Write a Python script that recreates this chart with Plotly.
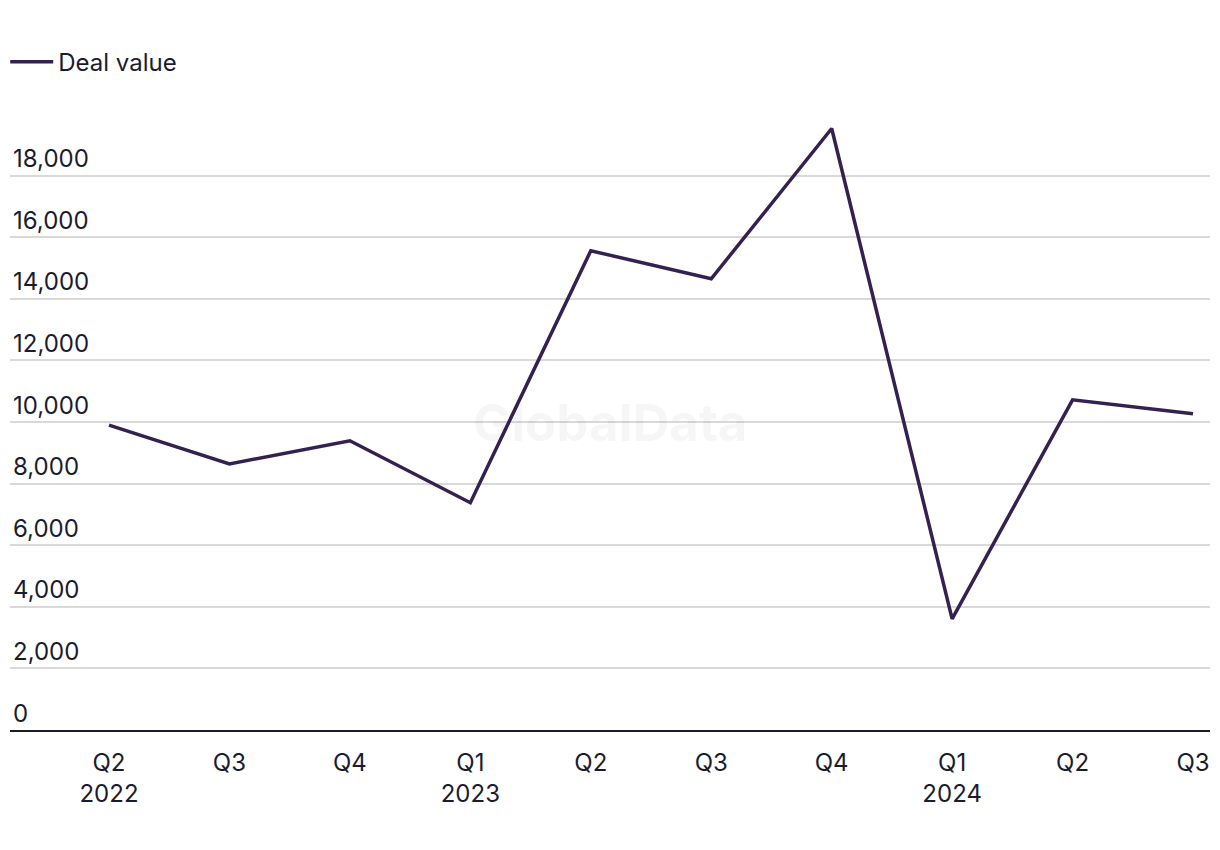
import plotly.graph_objects as go

quarters = ["Q2<br>2022", "Q3", "Q4", "Q1<br>2023", "Q2", "Q3", "Q4", "Q1<br>2024", "Q2", "Q3"]
deal_value = [9900, 8640, 9390, 7380, 15560, 14650, 19530, 3610, 10720, 10270]
y_ticks = [0, 2000, 4000, 6000, 8000, 10000, 12000, 14000, 16000, 18000]

x_idx = list(range(len(quarters)))
text_color = "#1b1b2f"
font_family = "Inter, Roboto, sans-serif"

fig = go.Figure()
fig.add_trace(go.Scatter(
    x=x_idx, y=deal_value, mode="lines", name="Deal value",
    line=dict(color="#35214f", width=3.5),
))

fig.add_annotation(
    text="<b>GlobalData</b>", x=0.5, y=0.5, xref="paper", yref="paper",
    showarrow=False, font=dict(size=51, color="rgba(0,0,0,0.035)", family=font_family),
)

# page body has an 8px default margin, so the figure is sized/offset to compensate
fig.update_layout(
    width=1212, height=842,
    margin=dict(l=2, r=10, t=106, b=120, autoexpand=False),
    paper_bgcolor="white", plot_bgcolor="white",
    font=dict(family=font_family, size=24, color=text_color),
    showlegend=True,
    legend=dict(x=-0.004, y=1.084, xanchor="left", yanchor="middle",
                orientation="h", itemwidth=43,
                font=dict(size=24, color=text_color),
                bgcolor="rgba(0,0,0,0)"),
    xaxis=dict(
        range=[-0.822, 9.141], tickvals=x_idx, ticktext=quarters,
        showgrid=False, zeroline=False, showline=True,
        linecolor=text_color, linewidth=2, ticks="", ticklen=0,
        ticklabelstandoff=10,
        tickfont=dict(size=24, color=text_color),
    ),
    yaxis=dict(
        range=[0, 20000], tickvals=y_ticks, tickformat=",d",
        showgrid=True, gridcolor="#d9d9d9", gridwidth=1.5,
        zeroline=False, showline=False, ticks="",
        ticklabelposition="inside top",
        tickfont=dict(size=24, color=text_color),
    ),
)

fig.write_html("out.html")
